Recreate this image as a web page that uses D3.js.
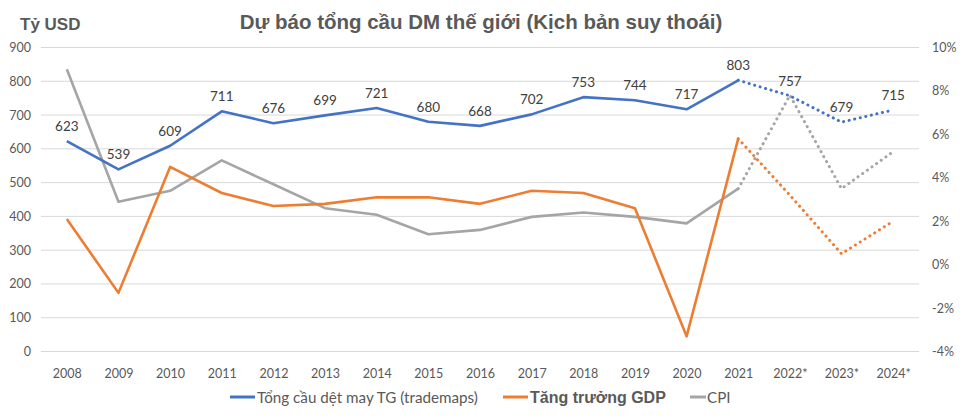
<!DOCTYPE html>
<html><head><meta charset="utf-8">
<script src="https://cdn.jsdelivr.net/npm/d3@7"></script>
<style>body{margin:0;background:#fff}svg{display:block}</style>
</head><body>
<svg id="c" width="964" height="418"></svg>
<script>
const years = ["2008","2009","2010","2011","2012","2013","2014","2015","2016","2017","2018","2019","2020","2021","2022*","2023*","2024*"];
const demand = [623,539,609,711,676,699,721,680,668,702,753,744,717,803,757,679,715];
const gdp = [2.1,-1.3,4.5,3.3,2.7,2.8,3.1,3.1,2.8,3.4,3.3,2.6,-3.3,5.8,3.2,0.5,2.0];
const cpi = [9.0,2.9,3.4,4.8,3.7,2.6,2.3,1.4,1.6,2.2,2.4,2.2,1.9,3.5,7.8,3.5,5.2];
const leftTicks = [0,100,200,300,400,500,600,700,800,900];
const rightTicks = [-4,-2,0,2,4,6,8,10];
const lastActual = 13; // index of 2021

(function(){
const svg = d3.select("#c");
const pL = 41, pR = 919, pT = 47.5, pB = 351.5;
const x = d3.scalePoint().domain(years).range([pL, pR]).padding(0.5);
const yL = d3.scaleLinear().domain([0,900]).range([pB, pT]);
const yR = d3.scaleLinear().domain([-4,10]).range([pB, pT]);
const tickFont = "Lato, 'Open Sans', sans-serif";
const txt = "#595959";

svg.append("g").selectAll("line").data(leftTicks).join("line")
  .attr("x1", pL).attr("x2", pR)
  .attr("y1", d=>yL(d)).attr("y2", d=>yL(d))
  .attr("stroke", "#d9d9d9").attr("stroke-width", 1);

const gl = svg.append("g").attr("transform", `translate(${pL-10},0)`)
  .call(d3.axisLeft(yL).tickValues(leftTicks).tickSize(0).tickPadding(0));
gl.select(".domain").remove();
gl.selectAll("text").attr("font-family", tickFont).attr("font-size", 12.5).attr("fill", txt);

const gr = svg.append("g").attr("transform", `translate(${pR+13},0)`)
  .call(d3.axisRight(yR).tickValues(rightTicks).tickSize(0).tickPadding(0).tickFormat(d=>d+"%"));
gr.select(".domain").remove();
gr.selectAll("text").attr("font-family", tickFont).attr("font-size", 12.5).attr("fill", txt);

const gx = svg.append("g").attr("transform", `translate(0,${pB+18})`)
  .call(d3.axisBottom(x).tickSize(0).tickPadding(0));
gx.select(".domain").remove();
gx.selectAll("text").attr("font-family", tickFont).attr("font-size", 12.5).attr("fill", txt);

function drawSeries(vals, yScale, color) {
  const pts = vals.map((v,i)=>[x(years[i]), yScale(v)]);
  const line = d3.line();
  svg.append("path").attr("d", line(pts.slice(0, lastActual+1)))
    .attr("fill","none").attr("stroke", color).attr("stroke-width", 2.6)
    .attr("stroke-linejoin","round");
  svg.append("path").attr("d", line(pts.slice(lastActual)))
    .attr("fill","none").attr("stroke", color).attr("stroke-width", 3)
    .attr("stroke-linecap","round").attr("stroke-dasharray","0.1 5.6");
}
drawSeries(cpi, yR, "#a5a5a5");
drawSeries(gdp, yR, "#ed7d31");
drawSeries(demand, yL, "#4472c4");

svg.append("g").selectAll("text").data(demand).join("text")
  .attr("x", (d,i)=>x(years[i])).attr("y", d=>yL(d)-10)
  .attr("text-anchor","middle").attr("font-family", tickFont)
  .attr("font-size", 13.5).attr("fill", "#404040").text(d=>d);

svg.append("text").attr("x", 481).attr("y", 29).attr("text-anchor","middle")
  .attr("font-family","'Liberation Sans', Arial, sans-serif").attr("font-weight","bold")
  .attr("font-size", 20.5).attr("fill", txt).text("Dự báo tổng cầu DM thế giới (Kịch bản suy thoái)");
svg.append("text").attr("x", 20).attr("y", 30)
  .attr("font-family","'Liberation Sans', Arial, sans-serif").attr("font-weight","bold")
  .attr("font-size", 17).attr("fill", txt).text("Tỷ USD");

const legend = [
  {name:"Tổng cầu dệt may TG (trademaps)", color:"#4472c4", x1:230, x2:255, tx:257, font:tickFont, weight:"normal", size:15.2},
  {name:"Tăng trưởng GDP", color:"#ed7d31", x1:503, x2:528, tx:530, font:"'Liberation Sans', Arial, sans-serif", weight:"bold", size:16},
  {name:"CPI", color:"#a5a5a5", x1:690, x2:706, tx:707, font:tickFont, weight:"normal", size:15.2}
];
const lg = svg.append("g").selectAll("g").data(legend).join("g");
lg.append("line").attr("x1", d=>d.x1).attr("x2", d=>d.x2).attr("y1", 397).attr("y2", 397)
  .attr("stroke", d=>d.color).attr("stroke-width", 3);
lg.append("text").attr("x", d=>d.tx).attr("y", 402.5)
  .attr("font-family", d=>d.font).attr("font-weight", d=>d.weight).attr("font-size", d=>d.size)
  .attr("fill", txt).text(d=>d.name);
})();
</script>
</body></html>
